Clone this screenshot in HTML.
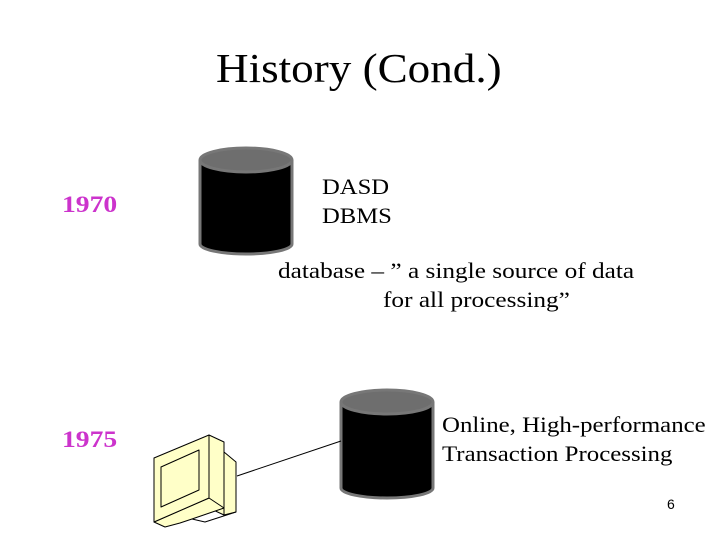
<!DOCTYPE html>
<html><head><style>
body{margin:0;width:720px;height:540px;background:#fff;position:relative;overflow:hidden}
.t{position:absolute;white-space:nowrap;font-family:"Liberation Serif",serif;transform-origin:0 0}
</style></head><body>
<svg width="720" height="540" style="position:absolute;left:0;top:0">
<g stroke="#777" stroke-width="3">
<rect x="200" y="160" width="92" height="84" fill="#000" stroke="none"/>
<path d="M200 160 V244 A46 10 0 0 0 292 244 V160" fill="#000"/>
<ellipse cx="246" cy="160" rx="46" ry="12" fill="#6e6e6e"/>
<rect x="341" y="402" width="92" height="86" fill="#000" stroke="none"/>
<path d="M341 402 V488 A46 10 0 0 0 433 488 V402" fill="#000"/>
<ellipse cx="387" cy="402" rx="46" ry="12" fill="#6e6e6e"/>
</g>
<line x1="237" y1="476" x2="341" y2="441" stroke="#000" stroke-width="1"/>
<g stroke="#000" stroke-width="1" fill="#ffffc8" stroke-linejoin="round">
<polygon points="224,452 236,462 236,512 224,515"/>
<polygon points="209,435 224,442 224,515 209,508"/>
<polygon points="154,522 209,498 224,508 192,519 180,523 165,527"/>
<polygon points="154,458 209,435 209,498 154,522"/>
<polygon points="161,467 199,450 199,490 161,507"/>
<polyline points="192,519 205,522 236,512" fill="none"/>
</g>
</svg>
<div class="t" style="left:216px;top:44px;font-size:41px;transform:scaleX(1.1)">History (Cond.)</div>
<div class="t" style="left:62px;top:192px;font-size:23px;font-weight:bold;color:#cc33cc;transform:scaleX(1.2)">1970</div>
<div class="t" style="left:62px;top:427px;font-size:23px;font-weight:bold;color:#cc33cc;transform:scaleX(1.2)">1975</div>
<div class="t" style="left:322px;top:172px;font-size:22px;line-height:29px;transform:scaleX(1.12)">DASD<br>DBMS</div>
<div class="t" style="left:278px;top:256px;font-size:22px;line-height:29px;transform:scaleX(1.15)">database – ” a single source of data</div>
<div class="t" style="left:383px;top:285px;font-size:22px;line-height:29px;transform:scaleX(1.15)">for all processing”</div>
<div class="t" style="left:442px;top:410px;font-size:22px;line-height:29px;transform:scaleX(1.13)">Online, High-performance<br>Transaction Processing</div>
<div class="t" style="left:667px;top:496px;font-size:14px;font-family:'Liberation Sans',sans-serif">6</div>
</body></html>
